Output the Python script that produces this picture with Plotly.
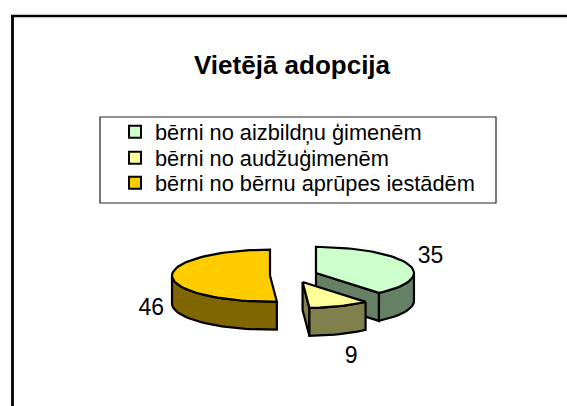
import numpy as np
import plotly.graph_objects as go

categories = ["bērni no aizbildņu ģimenēm", "bērni no audžuģimenēm", "bērni no bērnu aprūpes iestādēm"]
values = [35, 9, 46]
title_text = "Vietējā adopcija"

top_colors = ["#CCFFCC", "#FFFF99", "#FFCC00"]
side_colors = ["#668066", "#80804D", "#806600"]
label_offsets = [(15, -6), (9, 21), (-13, 5)]
legend_rows = [132, 158, 183]

W, H = 567, 406
CX, CY, A, B, DEPTH, EXPLODE, KY = 293.7, 275.4, 98, 26, 28, 23.7, 0.3
OUT = "#000000"


def rim(cx, cy, a0, a1, step=3.0):
    n = max(2, int(abs(a1 - a0) / step) + 1)
    t = np.radians(np.linspace(a0, a1, n))
    return cx + A * np.sin(t), cy - B * np.cos(t)


fig = go.Figure()
total = sum(values)
start = 0.0
geo = []
for v in values:
    end = start + v / total * 360
    mid = np.radians((start + end) / 2)
    geo.append((start, end, CX + EXPLODE * np.sin(mid), CY - EXPLODE * KY * np.cos(mid)))
    start = end


def poly(x, y, color):
    fig.add_trace(go.Scatter(x=list(x), y=list(y), mode="lines", fill="toself", fillcolor=color,
                             line=dict(color=OUT, width=2.2), showlegend=False, hoverinfo="skip"))


# draw back-to-front: orange, green, yellow
for i in [2, 0, 1]:
    a0, a1, cx, cy = geo[i]
    if i in (0, 1):
        # visible cut face
        ex, ey = rim(cx, cy, a1, a1, 1)
        ex, ey = ex[0], ey[0]
        poly([cx, ex, ex, cx, cx], [cy, ey, ey + DEPTH, cy + DEPTH, cy], side_colors[i])
    # outer wall: part of rim in the front half (90..270 degrees)
    w0, w1 = max(a0, 90), min(a1, 270)
    if w1 > w0:
        rx, ry = rim(cx, cy, w0, w1)
        poly(np.r_[rx, rx[::-1], rx[0]], np.r_[ry, ry[::-1] + DEPTH, ry[0]], side_colors[i])
    # top
    rx, ry = rim(cx, cy, a0, a1)
    poly(np.r_[cx, rx, cx], np.r_[cy, ry, cy], top_colors[i])

# data labels
lx, ly = [], []
for (a0, a1, cx, cy), (dx, dy) in zip(geo, label_offsets):
    m = np.radians((a0 + a1) / 2)
    lx.append(cx + A * 1.08 * np.sin(m) + dx)
    ly.append(cy - B * 1.08 * np.cos(m) + DEPTH * (np.cos(m) < 0) + dy)
fig.add_trace(go.Scatter(x=lx, y=ly, mode="text", text=[str(v) for v in values],
                         textfont=dict(family="Liberation Sans", size=23, color="#000"),
                         textposition="middle center", showlegend=False, hoverinfo="skip"))

# legend entries, one legend per row so the row spacing can match
legend_keys = ["legend", "legend2", "legend3"]
for name, c, key in zip(categories, top_colors, legend_keys):
    fig.add_trace(go.Scatter(x=[None], y=[None], mode="markers", name=name, legend=key,
                             marker=dict(symbol="square", size=11, color=c, line=dict(color="#000", width=1.8))))

legend_layout = {
    key: dict(x=115 / W, y=1 - row / H, xanchor="left", yanchor="middle", bgcolor="rgba(0,0,0,0)",
              font=dict(family="Liberation Sans", size=21.8, color="#000"), itemsizing="constant")
    for key, row in zip(legend_keys, legend_rows)
}

fig.update_layout(
    width=W, height=H, autosize=False, margin=dict(l=0, r=0, t=0, b=0),
    paper_bgcolor="white", plot_bgcolor="white",
    xaxis=dict(range=[0, W], visible=False, fixedrange=True),
    yaxis=dict(range=[H, 0], visible=False, fixedrange=True),
    annotations=[dict(text="<b>" + title_text + "</b>", x=292 / W, y=1 - 65 / H, xref="paper", yref="paper",
                      xanchor="center", yanchor="middle", showarrow=False,
                      font=dict(family="Liberation Sans", size=26, color="#000"))],
    shapes=[
        dict(type="rect", xref="paper", yref="paper", x0=100 / W, x1=496 / W, y0=1 - 117 / H, y1=1 - 203 / H,
             line=dict(color="#222", width=1.2), layer="below"),
        dict(type="line", xref="paper", yref="paper", x0=11 / W, x1=1, y0=1 - 16 / H, y1=1 - 16 / H,
             line=dict(color="#000", width=2.5)),
        dict(type="line", xref="paper", yref="paper", x0=12.5 / W, x1=12.5 / W, y0=1 - 15 / H, y1=0,
             line=dict(color="#000", width=2.8)),
    ],
    **legend_layout,
)
fig.write_html("out.html", config={"displayModeBar": False},
               post_script="document.body.style.margin='0';document.body.style.overflow='hidden';")
